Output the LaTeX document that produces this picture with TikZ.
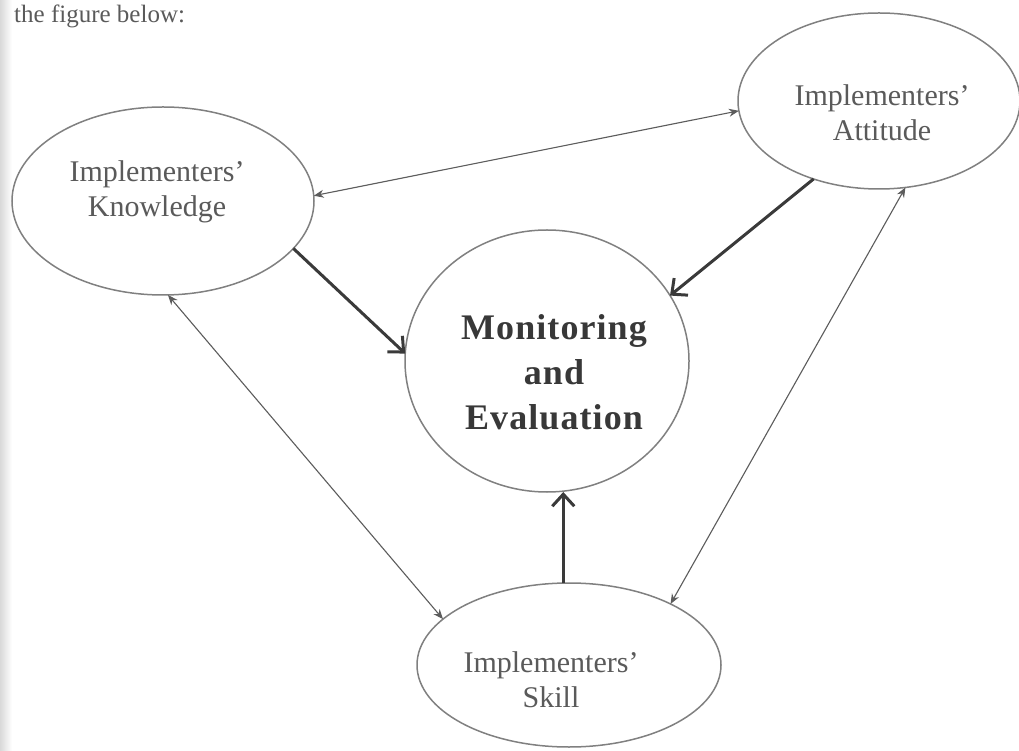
\documentclass[tikz,border=0pt]{standalone}
\usepackage{fontspec}
\setmainfont{Liberation Serif}
\newfontfamily\mefont[LetterSpace=3]{Liberation Serif}
\usetikzlibrary{arrows.meta,shapes.geometric}
\definecolor{edgec}{HTML}{808080}
\definecolor{labc}{HTML}{5A5A5A}
\definecolor{mec}{HTML}{383838}
\definecolor{linkc}{HTML}{5C5C5C}
\definecolor{mainc}{HTML}{3A3A3A}
\begin{document}
\begin{tikzpicture}[x=1pt,y=1pt,
  oval/.style={draw=edgec, line width=1.5pt, ellipse, inner sep=0pt, outer sep=0pt},
  lab/.style={text=labc, font=\fontsize{30}{35}\selectfont, align=center, inner sep=0pt},
  link/.style={draw=linkc, line width=1.1pt, {Stealth[length=10pt,width=8pt]}-{Stealth[length=10pt,width=8pt]}},
  mainarrow/.style={draw=mainc, line width=3pt, -{Straight Barb[length=12pt,width=22pt]}},
]
\useasboundingbox (0,0) rectangle (1019,750);
\fill[white] (0,0) rectangle (1019,750);
\shade[left color=gray!30, right color=white] (0,0) rectangle (12,750);

\node[anchor=base west, text=labc, font=\fontsize{25}{30}\selectfont, inner sep=0pt] (title) at (14,727) {the figure below:};

\node[oval, minimum width=302pt, minimum height=188pt] (K) at (163,549) {};
\node[oval, minimum width=282pt, minimum height=176pt] (A) at (879,649) {};
\node[oval, minimum width=284pt, minimum height=262pt] (M) at (547,389) {};
\node[oval, minimum width=304pt, minimum height=164pt] (S) at (569,85) {};

\node[lab] (Kt) at (157,557.5) {\strut Implementers'\\\strut Knowledge};
\node[lab] (At) at (882,633.5) {\strut Implementers'\\\strut Attitude};
\node[lab] (St) at (551,67.5) {\strut Implementers'\\\strut Skill};
\node[text=mec, font=\fontsize{36}{45}\selectfont\mefont\bfseries, align=center, inner sep=0pt] (Mt) at (554,374)
  {\strut Monitoring\\\strut and\\\strut Evaluation};

\draw[link] (K.2) -- (A.184);
\draw[link] (K.-87) -- (S.160);
\draw[link] (A.-73) -- (S.31);

\draw[mainarrow] (K.-20) -- (M.177);
\draw[mainarrow] (A.230) -- (M.28);
\draw[mainarrow] (S.94) -- (S.94 |- M.south);
\end{tikzpicture}
\end{document}
